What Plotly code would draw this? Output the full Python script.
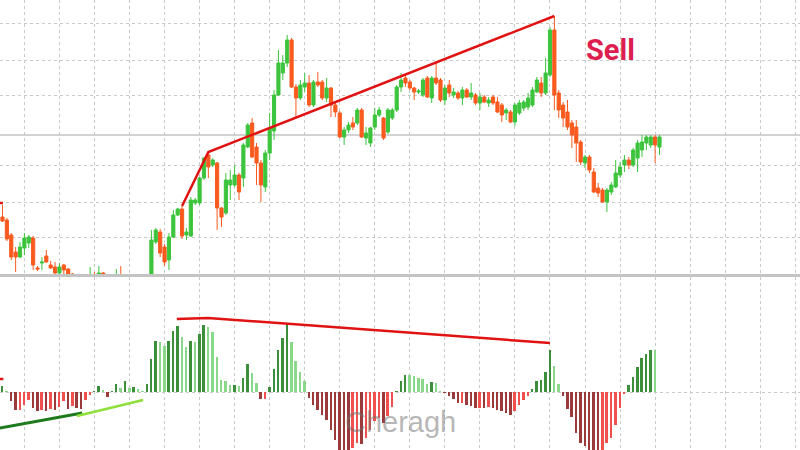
import plotly.graph_objects as go

# ---------------- data ----------------
bar_index = list(range(151))

opens = [56, 53, 38, 21, 16, 25, 30, 35, 5, 10, 17, 8, 6, 0, 8, 4, -1, -8, -12, -9,
         -12, -2, -8, 0, -6, -10, -7, -2, -6, -10, -7, -10, -8, -5, -3, 31, 41, 26, 13, 36,
         58, 64, 38, 37, 70, 70, 95, 118, 108, 110, 65, 60, 88, 88, 98, 95, 126, 150, 126, 110,
         86, 120, 142, 178, 200, 210, 233, 186, 175, 186, 190, 168, 191, 191, 175, 185, 168, 160, 136, 143,
         150, 150, 163, 135, 130, 146, 158, 155, 141, 155, 163, 186, 195, 191, 185, 181, 178, 195, 175, 195,
         193, 173, 188, 178, 180, 175, 183, 176, 178, 170, 176, 170, 176, 171, 168, 160, 161, 151, 160, 165,
         166, 168, 181, 190, 180, 198, 243, 180, 168, 161, 150, 146, 131, 110, 116, 101, 85, 83, 71, 81,
         86, 98, 108, 113, 108, 115, 123, 130, 128, 136, 126]
highs = [68, 55, 40, 26, 31, 40, 38, 37, 7, 16, 23, 12, 11, 10, 9, 5, 0, -5, -7, -8,
         6, 1, 7, 1, -4, -5, 4, 7, -4, -5, -5, -6, -3, -1, 43, 45, 44, 29, 40, 63,
         65, 67, 45, 76, 75, 96, 116, 121, 115, 111, 66, 100, 103, 108, 100, 130, 150, 155, 130, 113,
         123, 160, 183, 223, 218, 238, 235, 189, 193, 200, 198, 193, 201, 193, 195, 186, 171, 162, 146, 151,
         156, 165, 165, 146, 146, 165, 166, 156, 165, 165, 188, 200, 198, 193, 186, 184, 195, 197, 197, 210,
         195, 188, 193, 185, 182, 186, 185, 190, 180, 180, 178, 176, 178, 176, 170, 165, 163, 170, 173, 173,
         180, 186, 196, 196, 215, 246, 257, 183, 171, 173, 153, 153, 133, 118, 118, 105, 90, 85, 85, 91,
         113, 111, 118, 116, 125, 133, 138, 138, 138, 138, 138]
lows = [51, 32, 13, 1, 15, 18, 25, 3, 2, 3, 10, 4, -1, -1, -1, -5, -10, -15, -14, -16,
        -14, -10, -10, -8, -12, -12, -9, -8, -12, -12, -12, -12, -10, -7, -5, 29, 16, 7, 3, 35,
        57, 34, 33, 36, 68, 68, 93, 95, 106, 43, 46, 58, 73, 86, 73, 86, 125, 115, 88, 71,
        81, 113, 133, 177, 193, 206, 185, 156, 173, 181, 166, 166, 186, 173, 171, 156, 156, 135, 128, 140,
        143, 148, 135, 128, 126, 143, 156, 133, 139, 153, 161, 181, 186, 183, 173, 179, 176, 175, 170, 188,
        171, 168, 176, 175, 173, 168, 175, 173, 168, 163, 170, 166, 168, 160, 151, 153, 150, 147, 158, 162,
        163, 166, 180, 176, 178, 196, 163, 155, 146, 143, 125, 111, 108, 105, 100, 80, 76, 70, 61, 78,
        85, 95, 101, 104, 106, 101, 116, 123, 125, 110, 118]
closes = [52, 34, 16, 16, 26, 35, 36, 8, 4, 11, 11, 5, 0, 6, 3, -1, -8, -12, -9, -14,
          -2, -8, 0, -6, -10, -7, -2, -6, -10, -7, -10, -8, -5, -2, 33, 43, 20, 11, 36, 58,
          64, 37, 41, 73, 73, 95, 115, 106, 113, 65, 56, 93, 93, 98, 81, 128, 148, 116, 110, 88,
          120, 145, 178, 210, 210, 233, 186, 175, 188, 190, 168, 191, 188, 175, 185, 168, 161, 136, 143, 148,
          146, 163, 136, 140, 145, 158, 163, 135, 163, 163, 186, 193, 190, 185, 181, 182, 193, 176, 195, 190,
          173, 185, 180, 181, 175, 183, 176, 180, 170, 176, 171, 173, 170, 161, 158, 163, 151, 168, 170, 171,
          175, 183, 193, 180, 200, 243, 178, 163, 155, 146, 138, 130, 111, 116, 103, 81, 80, 71, 83, 88,
          100, 106, 113, 108, 123, 130, 131, 136, 136, 128, 136]

histogram = [6.3, 0.3, -9.3, -18.3, -17.7, -12.7, -7.7, -16, -19.3, -17.7,
             -18.5, -17, -17.8, -15, -9.3, -17, -14.3, -16, -17, -8.3,
             -2.7, 0.2, 6.3, 1.7, -5.3, 0.5, 8.3, 4, 11.3, 4,
             4.7, 3.3, 0.7, 8, 33, 50.7, 50, 46.3, 50.7, 60.7,
             66.3, 54.7, 45, 50.7, 50.5, 58.3, 67.3, 64.7, 60, 34.7,
             12.3, 10.7, 7.3, 7.3, 5.7, 14, 28.3, 19, 9, -7,
             -6.5, 5, 23.3, 42.3, 54, 69, 49.7, 30.7, 19.7, 10.7,
             -6, -12.7, -17.7, -23.3, -27.7, -37.7, -47.7, -57.7, -62, -63,
             -56, -51, -51.5, -46, -37.7, -29.3, -26, -31, -24.3, -15,
             0.5, 10.7, 17.3, 16.7, 15.7, 14, 13, 8, 10, 9,
             0.5, -0.5, -3.7, -7, -11, -10.5, -12.7, -14.3, -16, -15.7,
             -16, -15, -16, -17.7, -19.3, -21, -23.3, -19.3, -12.7, -7.7,
             -4.3, 3, 11.3, 12.3, 19.7, 42.3, 26.3, 8, -4.3, -16.7,
             -25.3, -41, -51, -54.3, -58, -60, -62, -58, -51, -46,
             -32.7, -16, -1.7, 7.3, 14.7, 24.7, 34, 38.3, 42.3, 41.7, None]

# drawn trend lines (bar index, value)
price_line_x = [41, 47, 126]
price_line_y = [67, 121, 257]
price_stub_x = [-0.6, 0.1]
price_stub_y = [70, 70]
osc_line_x = [39.8, 46.9, 125]
osc_line_y = [73, 74, 49]
osc_stub_x = [-0.6, 0.2]
osc_stub_y = [13, 13]
dark_green_x = [-0.6, 18.2]
dark_green_y = [-36, -21]
light_green_x = [17, 32.1]
light_green_y = [-24, -8]
price_level = 138

# ---------------- styling ----------------
UP = '#3cc43c'
DOWN = '#fa5a1e'
GRID = '#c9c9c9'
TL_RED = '#e01212'

hist_colors = []
prev = 0
for v in histogram:
    if v is None:
        hist_colors.append('rgba(0,0,0,0)')
        continue
    if v >= 0:
        hist_colors.append('#3b8f3b' if v >= prev else '#8ad88a')
    else:
        hist_colors.append('#9a3a3a' if v <= prev else '#f0504e')
    prev = v

fig = go.Figure()
fig.add_trace(go.Candlestick(
    x=bar_index, open=opens, high=highs, low=lows, close=closes,
    increasing=dict(line=dict(color=UP, width=1), fillcolor=UP),
    decreasing=dict(line=dict(color=DOWN, width=1), fillcolor=DOWN),
    whiskerwidth=0, xaxis='x', yaxis='y', showlegend=False, hoverinfo='skip'))

fig.add_trace(go.Scatter(x=price_line_x, y=price_line_y, mode='lines',
                         line=dict(color=TL_RED, width=2.5), xaxis='x', yaxis='y',
                         showlegend=False, hoverinfo='skip'))
fig.add_trace(go.Scatter(x=price_stub_x, y=price_stub_y, mode='lines',
                         line=dict(color=TL_RED, width=2.5), xaxis='x', yaxis='y',
                         showlegend=False, hoverinfo='skip'))

fig.add_trace(go.Bar(x=bar_index, y=histogram, marker=dict(color=hist_colors, line=dict(width=0)),
                     width=0.45, xaxis='x2', yaxis='y2', showlegend=False, hoverinfo='skip'))

fig.add_trace(go.Scatter(x=osc_line_x, y=osc_line_y, mode='lines',
                         line=dict(color=TL_RED, width=2.5), xaxis='x2', yaxis='y2',
                         showlegend=False, hoverinfo='skip'))
fig.add_trace(go.Scatter(x=osc_stub_x, y=osc_stub_y, mode='lines',
                         line=dict(color=TL_RED, width=2.5), xaxis='x2', yaxis='y2',
                         showlegend=False, hoverinfo='skip'))
fig.add_trace(go.Scatter(x=dark_green_x, y=dark_green_y, mode='lines',
                         line=dict(color='#1d7a1d', width=3), xaxis='x2', yaxis='y2',
                         showlegend=False, hoverinfo='skip'))
fig.add_trace(go.Scatter(x=light_green_x, y=light_green_y, mode='lines',
                         line=dict(color='#8fe03a', width=2.5), xaxis='x2', yaxis='y2',
                         showlegend=False, hoverinfo='skip'))

xcommon = dict(range=[-0.57, 182.08], tick0=5, dtick=8, showgrid=True, gridcolor=GRID,
               griddash='3px,3px', gridwidth=1, showticklabels=False, zeroline=False,
               ticks='', showline=True, linecolor='#c4c4c4', linewidth=1.5)

fig.update_layout(
    width=800, height=450,
    margin=dict(l=0, r=0, t=0, b=0),
    paper_bgcolor='white', plot_bgcolor='white',
    showlegend=False,
    boxgap=0.1, boxgroupgap=0.2,
    xaxis=dict(**xcommon, domain=[0, 1], anchor='y', rangeslider=dict(visible=False)),
    xaxis2=dict(**xcommon, domain=[0, 1], anchor='y2', side='top', matches='x'),
    yaxis=dict(domain=[1 - 274 / 450, 1], range=[-1, 273], tickvals=[36, 71, 108, 178, 213, 250],
               showgrid=True, gridcolor=GRID, griddash='3px,3px', showticklabels=False,
               zeroline=False, ticks=''),
    yaxis2=dict(domain=[0, 173 / 450], range=[-58, 115], tickvals=[0],
                showgrid=True, gridcolor=GRID, griddash='3px,3px', showticklabels=False,
                zeroline=False, ticks=''),
    bargap=0,
    shapes=[dict(type='line', xref='paper', x0=0, x1=1, yref='y', y0=price_level, y1=price_level,
                 line=dict(color='#d2d2d2', width=2), layer='below')],
    annotations=[
        dict(text='<b>Sell</b>', x=610 / 800, y=1 - 50 / 450, xref='paper', yref='paper',
             xanchor='center', yanchor='middle', showarrow=False,
             font=dict(family='Roboto', size=29, color='#dc1f4f')),
        dict(text='Cheragh', x=400 / 800, y=1 - 422 / 450, xref='paper', yref='paper',
             xanchor='center', yanchor='middle', showarrow=False,
             font=dict(family='Liberation Sans, Arial', size=29, color='rgba(110,110,110,0.5)')),
    ],
)

fig.write_html('out.html', config={'displayModeBar': False},
               post_script="document.body.style.margin='0';")
